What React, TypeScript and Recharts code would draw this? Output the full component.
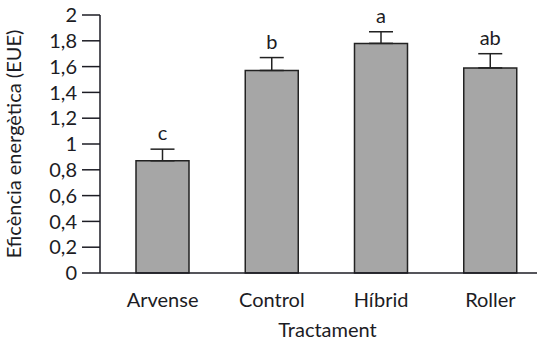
import { Bar, BarChart, ErrorBar, Label, LabelList, XAxis, YAxis } from 'recharts'

const treatments = ['Arvense', 'Control', 'Híbrid', 'Roller']
const eue = [0.87, 1.57, 1.78, 1.59]
const eueErr = [0.09, 0.1, 0.09, 0.11]
const letters = ['c', 'b', 'a', 'ab']
const yTicks = [0, 0.2, 0.4, 0.6, 0.8, 1, 1.2, 1.4, 1.6, 1.8, 2]

const data = treatments.map((name, i) => ({
  name,
  eue: eue[i],
  err: [0, eueErr[i]],
  letter: letters[i],
}))

const FONT = 'Lato, "Open Sans", sans-serif'
const INK = '#1c1c24'

function formatTick(v: number): string {
  return Number.isInteger(v) ? String(v) : v.toFixed(1).replace('.', ',')
}

function LetterLabel(props: any) {
  const { x, y, width, height, index, value } = props
  // place letter above the error bar top
  const top = y - (eueErr[index] * height) / eue[index]
  return (
    <text x={x + width / 2} y={top - 9} textAnchor="middle" fill={INK} fontSize={20} fontFamily={FONT}>
      {value}
    </text>
  )
}

export default function App() {
  // the x axis runs off the right edge in the original, so clip a slightly wider chart
  return (
    <div
      style={{
        position: 'absolute',
        left: 0,
        top: 0,
        width: 537,
        height: 341,
        overflow: 'hidden',
        background: '#fff',
        fontFamily: FONT,
      }}
    >
      <BarChart width={545} height={341} data={data} margin={{ top: 15, right: 0, bottom: 0, left: 0 }}>
        <XAxis
          dataKey="name"
          height={68}
          tickLine={false}
          axisLine={{ stroke: INK, strokeWidth: 1.5 }}
          tick={{ fill: INK, fontSize: 20, fontFamily: FONT }}
          tickMargin={14}
          padding={{ left: 8, right: 0 }}
        >
          <Label value="Tractament" position="insideBottom" offset={4} dx={5} fill={INK} fontSize={20} fontFamily={FONT} />
        </XAxis>
        <YAxis
          width={100}
          domain={[0, 2]}
          ticks={yTicks}
          interval={0}
          tickFormatter={formatTick}
          tickSize={18}
          tickMargin={5}
          tickLine={{ stroke: INK, strokeWidth: 1.5 }}
          axisLine={{ stroke: INK, strokeWidth: 1.5 }}
          tick={{ fill: INK, fontSize: 20, fontFamily: FONT }}
        >
          <Label
            value="Eficència energètica (EUE)"
            angle={-90}
            position="insideLeft"
            offset={14}
            style={{ textAnchor: 'middle' }}
            fill={INK}
            fontSize={20}
            fontFamily={FONT}
          />
        </YAxis>
        <Bar dataKey="eue" fill="#a6a6a6" stroke="#222" strokeWidth={1.5} barSize={53} isAnimationActive={false}>
          <ErrorBar dataKey="err" direction="y" width={12} stroke="#222" strokeWidth={1.5} />
          <LabelList dataKey="letter" content={<LetterLabel />} />
        </Bar>
      </BarChart>
    </div>
  )
}
